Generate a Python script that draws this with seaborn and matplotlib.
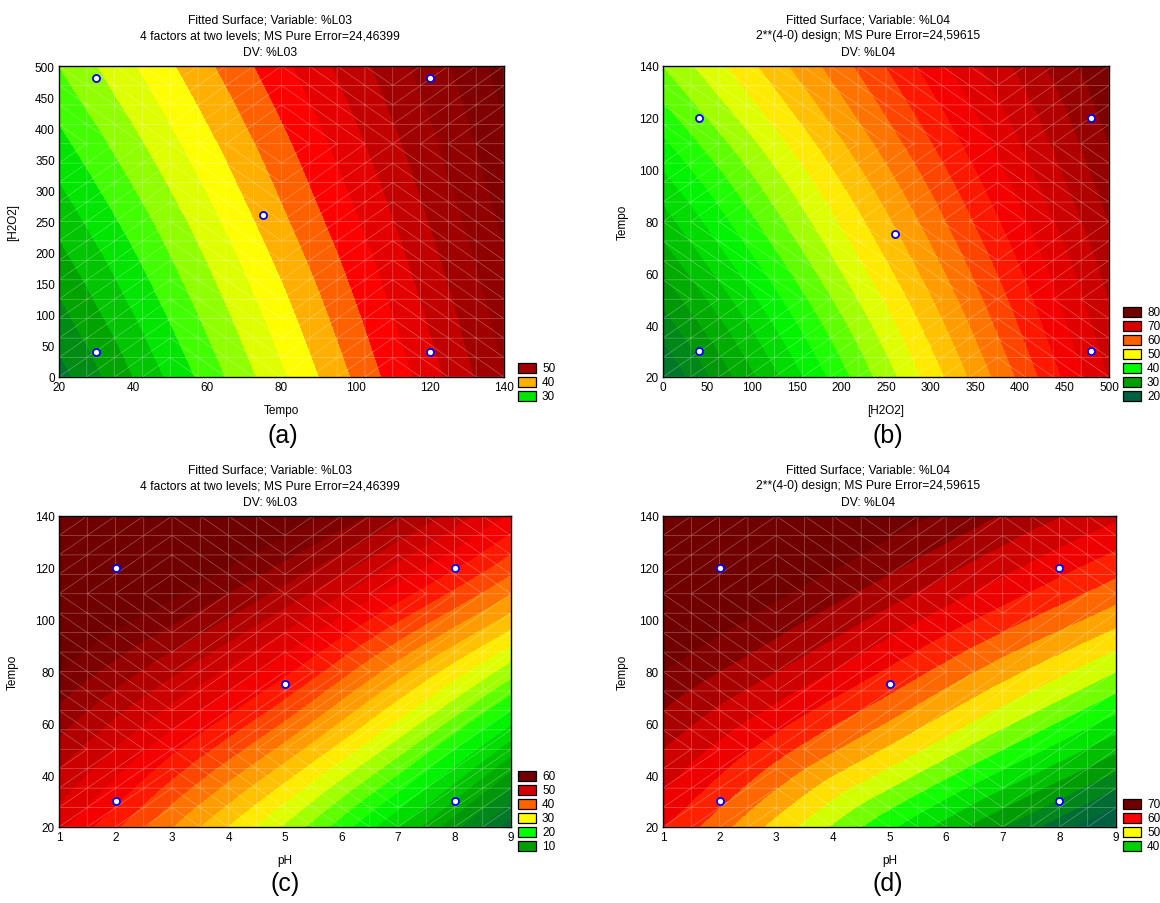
import numpy as np
import matplotlib
matplotlib.use("Agg")
import matplotlib.pyplot as plt
import matplotlib.tri as mtri
from matplotlib.colors import LinearSegmentedColormap, Normalize, FuncNorm
from matplotlib.patches import Rectangle
import seaborn as sns

# ---- data read off the fitted surfaces (values at grid nodes) ----
# (a) %L03 vs Tempo (x) and [H2O2] (y)
a_x = [20, 50, 80, 110, 140]
a_y = [0, 125, 250, 375, 500]
a_z = [[21.2, 28.4, 35.6, 42.7, 49.9],
       [23.9, 30.7, 37.5, 44.3, 51.1],
       [26.6, 33.0, 39.5, 45.9, 52.4],
       [29.3, 35.4, 41.4, 47.5, 53.6],
       [32.0, 37.7, 43.4, 49.1, 54.8]]
a_pts_x = [30, 30, 120, 120, 75]
a_pts_y = [40, 480, 40, 480, 260]
a_legend = [50, 40, 30]

# (b) %L04 vs [H2O2] (x) and Tempo (y)
b_x = [0, 125, 250, 375, 500]
b_y = [20, 50, 80, 110, 140]
b_z = [[22.5, 34.4, 46.3, 58.1, 70.0],
       [28.1, 39.2, 50.3, 61.4, 72.5],
       [33.8, 44.1, 54.4, 64.7, 75.0],
       [39.4, 48.9, 58.5, 68.0, 77.5],
       [45.0, 53.8, 62.5, 71.3, 80.0]]
b_pts_x = [40, 40, 480, 480, 260]
b_pts_y = [30, 120, 30, 120, 75]
b_legend = [80, 70, 60, 50, 40, 30, 20]

# (c) %L03 vs pH (x) and Tempo (y)
c_x = [1, 3, 5, 7, 9]
c_y = [20, 50, 80, 110, 140]
c_z = [[48.0, 37.5, 27.0, 15.0, 1.0],
       [54.0, 45.5, 36.5, 26.0, 13.5],
       [60.0, 53.0, 45.5, 36.0, 26.0],
       [66.0, 60.5, 54.0, 46.0, 37.5],
       [72.0, 67.5, 62.0, 55.5, 47.0]]
c_pts_x = [2, 2, 8, 8, 5]
c_pts_y = [30, 120, 30, 120, 75]
c_legend = [60, 50, 40, 30, 20, 10]

# (d) %L04 vs pH (x) and Tempo (y)
d_x = [1, 3, 5, 7, 9]
d_y = [20, 50, 80, 110, 140]
d_z = [[60.0, 51.5, 43.0, 35.0, 27.0],
       [65.0, 58.5, 52.0, 45.0, 38.0],
       [70.0, 65.0, 59.5, 53.5, 47.5],
       [75.0, 70.5, 66.0, 61.0, 56.0],
       [80.0, 75.8, 71.5, 67.3, 63.0]]
d_pts_x = [2, 2, 8, 8, 5]
d_pts_y = [30, 120, 30, 120, 75]
d_legend = [70, 60, 50, 40]

titles_l03 = ["Fitted Surface; Variable: %L03",
              "4 factors at two levels; MS Pure Error=24,46399",
              "DV: %L03"]
titles_l04 = ["Fitted Surface; Variable: %L04",
              "2**(4-0) design; MS Pure Error=24,59615",
              "DV: %L04"]

sns.set_theme(style="white", rc={"axes.edgecolor": "black", "text.color": "black",
                                 "xtick.color": "black", "ytick.color": "black",
                                 "axes.labelcolor": "black"})
plt.rcParams['font.family'] = ['Liberation Sans', 'DejaVu Sans']

cmap = LinearSegmentedColormap.from_list("stat", [
    (0.0, "#006040"), (1/6, "#00a000"), (2/6, "#00ff00"), (0.5, "#ffff00"),
    (4/6, "#ff6000"), (0.75, "#ff0000"), (5/6, "#d80000"), (1.0, "#700000")])

# panel (a) uses an uneven colour scale (orange/red bands are packed tighter)
a_knots = [19, 29, 31, 35, 37, 41, 43, 49, 55]
a_pos = [0.0, 0.29, 0.375, 0.478, 0.5, 0.667, 0.75, 0.92, 1.0]
a_norm = FuncNorm((lambda v: np.interp(v, a_knots, a_pos),
                   lambda p: np.interp(p, a_pos, a_knots)), vmin=19, vmax=55)

W, H = 1160, 904
fig = plt.figure(figsize=(W / 100, H / 100), dpi=100)


def px_axes(left, top, right, bottom):
    return fig.add_axes([left / W, 1 - bottom / H, (right - left) / W, (bottom - top) / H])


def draw(box, gx, gy, gz, step, norm, px, py, xlab, ylab, xticks, yticks,
         titles, title_x, legend, leg_x, leg_shift, tag, tag_xy, ylab_x):
    ax = px_axes(*box)
    X, Y = np.meshgrid(gx, gy)
    z = np.asarray(gz, dtype=float).ravel()
    tri = mtri.Triangulation(X.ravel(), Y.ravel())
    refiner = mtri.UniformTriRefiner(tri)
    interp = mtri.CubicTriInterpolator(tri, z, kind='geom')
    tri_f, z_f = refiner.refine_field(z, triinterpolator=interp, subdiv=4)
    lev = np.arange(np.floor(z.min() / step) * step - step, z.max() + 2 * step, step)
    ax.tricontourf(tri_f, z_f, levels=lev, cmap=cmap, norm=norm, antialiased=False)
    mesh = refiner.refine_triangulation(subdiv=2)
    ax.triplot(mesh, color="white", lw=0.5, alpha=0.33)

    sns.scatterplot(x=px, y=py, ax=ax, color="white", edgecolor="#0000ff",
                    s=26, linewidth=1.3, zorder=5, legend=False)

    ax.set_xlim(gx[0], gx[-1])
    ax.set_ylim(gy[0], gy[-1])
    ax.set_xticks(xticks)
    ax.set_yticks(yticks)
    ax.tick_params(direction="in", top=True, right=True, length=4, width=0.8,
                   labelsize=8.5, pad=3)
    for s in ax.spines.values():
        s.set_linewidth(1.0)
        s.set_color("black")
    ax.set_xlabel(xlab, fontsize=8.5)
    ax.set_ylabel(ylab, fontsize=8.5)
    w = box[2] - box[0]
    h = box[3] - box[1]
    ax.xaxis.set_label_coords(0.5, -27 / h)
    ax.yaxis.set_label_coords((ylab_x - box[0]) / w, 0.5)

    top = box[1]
    for i, t in enumerate(titles):
        fig.text(title_x / W, 1 - (top - 46.5 + 16 * i) / H, t,
                 ha="center", va="center", fontsize=8.7)

    # legend stacked upward from below the axes
    n = len(legend)
    y_bot = box[3] + 24
    for i, lv in enumerate(legend):
        y0 = y_bot - (n - i) * 14 + 4
        fig.patches.append(Rectangle((leg_x / W, 1 - (y0 + 10) / H), 18 / W, 10 / H,
                                     transform=fig.transFigure,
                                     facecolor=cmap(norm(lv + leg_shift)),
                                     edgecolor="black", lw=0.9))
        fig.text((leg_x + 24) / W, 1 - (y0 + 5) / H, str(lv), ha="left",
                 va="center", fontsize=8.5)

    fig.text(tag_xy[0] / W, 1 - tag_xy[1] / H, tag, ha="center", va="center", fontsize=18)
    return ax


draw((59, 67, 504, 378), a_x, a_y, a_z, 2.0, a_norm,
     a_pts_x, a_pts_y, "Tempo", "[H2O2]", range(20, 141, 20), range(0, 501, 50),
     titles_l03, 270, a_legend, 518, -1, "(a)", (283, 436), 19)

draw((663, 67, 1109, 378), b_x, b_y, b_z, 2.5, Normalize(20, 80),
     b_pts_x, b_pts_y, "[H2O2]", "Tempo", range(0, 501, 50), range(20, 141, 20),
     titles_l04, 868, b_legend, 1123, 0, "(b)", (888, 436), 629)

draw((59, 517, 511, 828), c_x, c_y, c_z, 2.5, Normalize(0, 60),
     c_pts_x, c_pts_y, "pH", "Tempo", range(1, 10), range(20, 141, 20),
     titles_l03, 270, c_legend, 518, 0, "(c)", (285, 884), 19)

draw((663, 517, 1116, 828), d_x, d_y, d_z, 2.5, Normalize(30, 70),
     d_pts_x, d_pts_y, "pH", "Tempo", range(1, 10), range(20, 141, 20),
     titles_l04, 868, d_legend, 1123, 0, "(d)", (888, 884), 629)

fig.savefig("out.png", dpi=100)
